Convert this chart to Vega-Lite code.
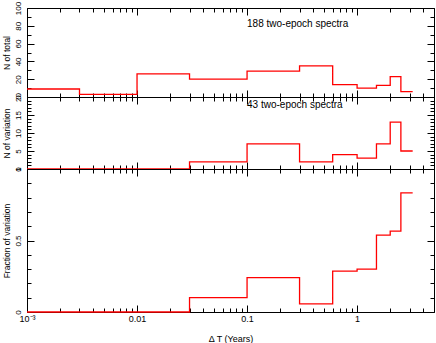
{
  "$schema": "https://vega.github.io/schema/vega-lite/v6.json",
  "padding": {"left": 2, "top": 1, "right": 0, "bottom": 0},
  "background": "white",
  "spacing": 0,
  "bounds": "flush",
  "config": {
    "font": "Liberation Sans",
    "view": {"stroke": null},
    "axis": {
      "domainColor": "black",
      "tickColor": "black",
      "labelColor": "black",
      "titleColor": "black",
      "labelFontSize": 8,
      "titleFontSize": 8.5,
      "titleFontWeight": "normal",
      "grid": false,
      "labelFlush": false,
      "labelOverlap": false
    }
  },
  "datasets": {
    "hist": [
      {"x": 0.001, "total": 9, "variation": 0, "fraction": 0},
      {"x": 0.003, "total": 3, "variation": 0, "fraction": 0},
      {"x": 0.01, "total": 26, "variation": 0, "fraction": 0},
      {"x": 0.03, "total": 20, "variation": 2, "fraction": 0.1},
      {"x": 0.1, "total": 29, "variation": 7, "fraction": 0.241},
      {"x": 0.3, "total": 35, "variation": 2, "fraction": 0.057},
      {"x": 0.6, "total": 14, "variation": 4, "fraction": 0.286},
      {"x": 1.0, "total": 10, "variation": 3, "fraction": 0.3},
      {"x": 1.5, "total": 13, "variation": 7, "fraction": 0.538},
      {"x": 2.0, "total": 23, "variation": 13, "fraction": 0.565},
      {"x": 2.5, "total": 6, "variation": 5, "fraction": 0.833},
      {"x": 3.2, "total": 6, "variation": 5, "fraction": 0.833}
    ],
    "notes": [
      {"panel": "total", "x": 0.1, "y": 82, "label": "188 two-epoch spectra"},
      {"panel": "variation", "x": 0.1, "y": 17.8, "label": "43 two-epoch spectra"}
    ]
  },
  "vconcat": [
    {
      "width": 407,
      "height": 89,
      "layer": [
        {
          "data": {"name": "hist"},
          "mark": {"type": "line", "interpolate": "step-after", "color": "#ff0000", "strokeWidth": 1.3},
          "encoding": {
            "x": {"field": "x", "type": "quantitative", "scale": {"type": "log", "domain": [0.001, 5], "nice": false},
              "axis": {"orient": "bottom", "labels": false, "title": null, "tickSize": {"condition": {"test": "abs(log(datum.value)/LN10 - round(log(datum.value)/LN10)) < 0.001", "value": -7}, "value": -4},
                "values": [0.001,0.002,0.003,0.004,0.005,0.006,0.007,0.008,0.009,0.01,0.02,0.03,0.04,0.05,0.06,0.07,0.08,0.09,0.1,0.2,0.3,0.4,0.5,0.6,0.7,0.8,0.9,1,2,3,4,5]}},
            "y": {"field": "total", "type": "quantitative", "scale": {"domain": [0, 100], "nice": false},
              "axis": {"orient": "left", "title": "N of total", "titlePadding": 0, "labelAngle": -90, "labelAlign": "center", "labelBaseline": "bottom", "labelPadding": 11.5,
                "values": [0,10,20,30,40,50,60,70,80,90,100],
                "labelExpr": "datum.value % 20 == 0 ? datum.label : ''",
                "tickSize": {"condition": {"test": "datum.value % 20 == 0", "value": -7}, "value": -4}}}
          }
        },
        {
          "data": {"name": "hist"},
          "mark": {"type": "line", "interpolate": "step-after", "opacity": 0},
          "encoding": {
            "x": {"field": "x", "type": "quantitative", "scale": {"type": "log", "domain": [0.001, 5], "nice": false},
              "axis": {"orient": "top", "labels": false, "title": null, "tickSize": {"condition": {"test": "abs(log(datum.value)/LN10 - round(log(datum.value)/LN10)) < 0.001", "value": -7}, "value": -4},
                "values": [0.001,0.002,0.003,0.004,0.005,0.006,0.007,0.008,0.009,0.01,0.02,0.03,0.04,0.05,0.06,0.07,0.08,0.09,0.1,0.2,0.3,0.4,0.5,0.6,0.7,0.8,0.9,1,2,3,4,5]}},
            "y": {"field": "total", "type": "quantitative", "scale": {"domain": [0, 100], "nice": false},
              "axis": {"orient": "right", "labels": false, "title": null,
                "values": [0,10,20,30,40,50,60,70,80,90,100],
                "tickSize": {"condition": {"test": "datum.value % 20 == 0", "value": -7}, "value": -4}}}
          }
        },
        {
          "data": {"name": "notes"},
          "transform": [{"filter": "datum.panel == 'total'"}],
          "mark": {"type": "text", "align": "left", "baseline": "middle", "fontSize": 10, "color": "black"},
          "encoding": {
            "x": {"field": "x", "type": "quantitative", "axis": null},
            "y": {"field": "y", "type": "quantitative", "axis": null},
            "text": {"field": "label"}
          }
        }
      ],
      "resolve": {"axis": {"x": "independent", "y": "independent"}}
    },
    {
      "width": 407,
      "height": 72,
      "layer": [
        {
          "data": {"name": "hist"},
          "mark": {"type": "line", "interpolate": "step-after", "color": "#ff0000", "strokeWidth": 1.3},
          "encoding": {
            "x": {"field": "x", "type": "quantitative", "scale": {"type": "log", "domain": [0.001, 5], "nice": false},
              "axis": {"orient": "bottom", "labels": false, "title": null, "tickSize": {"condition": {"test": "abs(log(datum.value)/LN10 - round(log(datum.value)/LN10)) < 0.001", "value": -7}, "value": -4},
                "values": [0.001,0.002,0.003,0.004,0.005,0.006,0.007,0.008,0.009,0.01,0.02,0.03,0.04,0.05,0.06,0.07,0.08,0.09,0.1,0.2,0.3,0.4,0.5,0.6,0.7,0.8,0.9,1,2,3,4,5]}},
            "y": {"field": "variation", "type": "quantitative", "scale": {"domain": [0, 20], "nice": false},
              "axis": {"orient": "left", "title": "N of variation", "titlePadding": 0, "labelAngle": -90, "labelAlign": "center", "labelBaseline": "bottom", "labelPadding": 11.5,
                "values": [0,1,2,3,4,5,6,7,8,9,10,11,12,13,14,15,16,17,18,19,20],
                "labelExpr": "datum.value % 5 == 0 ? datum.label : ''",
                "tickSize": {"condition": {"test": "datum.value % 5 == 0", "value": -7}, "value": -4}}}
          }
        },
        {
          "data": {"name": "hist"},
          "mark": {"type": "line", "interpolate": "step-after", "opacity": 0},
          "encoding": {
            "x": {"field": "x", "type": "quantitative", "scale": {"type": "log", "domain": [0.001, 5], "nice": false},
              "axis": {"orient": "top", "labels": false, "title": null, "tickSize": {"condition": {"test": "abs(log(datum.value)/LN10 - round(log(datum.value)/LN10)) < 0.001", "value": -7}, "value": -4},
                "values": [0.001,0.002,0.003,0.004,0.005,0.006,0.007,0.008,0.009,0.01,0.02,0.03,0.04,0.05,0.06,0.07,0.08,0.09,0.1,0.2,0.3,0.4,0.5,0.6,0.7,0.8,0.9,1,2,3,4,5]}},
            "y": {"field": "variation", "type": "quantitative", "scale": {"domain": [0, 20], "nice": false},
              "axis": {"orient": "right", "labels": false, "title": null,
                "values": [0,1,2,3,4,5,6,7,8,9,10,11,12,13,14,15,16,17,18,19,20],
                "tickSize": {"condition": {"test": "datum.value % 5 == 0", "value": -7}, "value": -4}}}
          }
        },
        {
          "data": {"name": "notes"},
          "transform": [{"filter": "datum.panel == 'variation'"}],
          "mark": {"type": "text", "align": "left", "baseline": "middle", "fontSize": 10, "color": "black"},
          "encoding": {
            "x": {"field": "x", "type": "quantitative", "axis": null},
            "y": {"field": "y", "type": "quantitative", "axis": null},
            "text": {"field": "label"}
          }
        }
      ],
      "resolve": {"axis": {"x": "independent", "y": "independent"}}
    },
    {
      "width": 407,
      "height": 143,
      "layer": [
        {
          "data": {"name": "hist"},
          "mark": {"type": "line", "interpolate": "step-after", "color": "#ff0000", "strokeWidth": 1.3},
          "encoding": {
            "x": {"field": "x", "type": "quantitative", "scale": {"type": "log", "domain": [0.001, 5], "nice": false},
              "axis": {"orient": "bottom", "title": "Δ T (Years)", "titleFontSize": 9, "titlePadding": 8, "labelPadding": 9, "labelFontSize": 9, "tickSize": {"condition": {"test": "abs(log(datum.value)/LN10 - round(log(datum.value)/LN10)) < 0.001", "value": -7}, "value": -4},
                "labelExpr": "abs(datum.value-0.001)<1e-9 ? '10⁻³' : abs(datum.value-0.01)<1e-9 ? '0.01' : abs(datum.value-0.1)<1e-9 ? '0.1' : abs(datum.value-1)<1e-9 ? '1' : ''",
                "values": [0.001,0.002,0.003,0.004,0.005,0.006,0.007,0.008,0.009,0.01,0.02,0.03,0.04,0.05,0.06,0.07,0.08,0.09,0.1,0.2,0.3,0.4,0.5,0.6,0.7,0.8,0.9,1,2,3,4,5]}},
            "y": {"field": "fraction", "type": "quantitative", "scale": {"domain": [0, 1], "nice": false},
              "axis": {"orient": "left", "title": "Fraction of variation", "titlePadding": 0, "labelAngle": -90, "labelAlign": "center", "labelBaseline": "bottom", "labelPadding": 11.5,
                "values": [0,0.1,0.2,0.3,0.4,0.5,0.6,0.7,0.8,0.9,1],
                "labelExpr": "abs(datum.value-0.5)<0.01 ? '0.5' : datum.value<0.01 ? '0' : datum.value>0.99 ? '1' : ''",
                "tickSize": {"condition": {"test": "abs(datum.value*2 - round(datum.value*2)) < 0.01", "value": -7}, "value": -4}}}
          }
        },
        {
          "data": {"name": "hist"},
          "mark": {"type": "line", "interpolate": "step-after", "opacity": 0},
          "encoding": {
            "x": {"field": "x", "type": "quantitative", "scale": {"type": "log", "domain": [0.001, 5], "nice": false},
              "axis": {"orient": "top", "labels": false, "title": null, "tickSize": {"condition": {"test": "abs(log(datum.value)/LN10 - round(log(datum.value)/LN10)) < 0.001", "value": -7}, "value": -4},
                "values": [0.001,0.002,0.003,0.004,0.005,0.006,0.007,0.008,0.009,0.01,0.02,0.03,0.04,0.05,0.06,0.07,0.08,0.09,0.1,0.2,0.3,0.4,0.5,0.6,0.7,0.8,0.9,1,2,3,4,5]}},
            "y": {"field": "fraction", "type": "quantitative", "scale": {"domain": [0, 1], "nice": false},
              "axis": {"orient": "right", "labels": false, "title": null,
                "values": [0,0.1,0.2,0.3,0.4,0.5,0.6,0.7,0.8,0.9,1],
                "tickSize": {"condition": {"test": "abs(datum.value*2 - round(datum.value*2)) < 0.01", "value": -7}, "value": -4}}}
          }
        }
      ],
      "resolve": {"axis": {"x": "independent", "y": "independent"}}
    }
  ]
}
